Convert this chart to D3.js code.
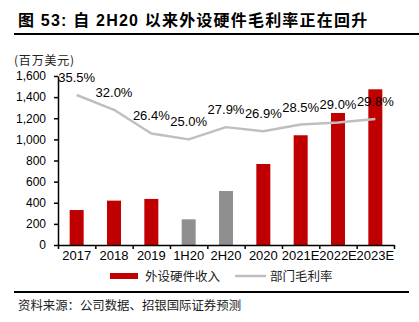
<!DOCTYPE html>
<html>
<head>
<meta charset="utf-8">
<script src="https://cdn.jsdelivr.net/npm/d3@7"></script>
<style>
  body { margin: 0; background: #fff; }
  svg { display: block; }
  text { font-family: "Liberation Sans", Arial, "Noto Sans CJK SC", sans-serif; }
  .cjk { font-family: "Noto Sans CJK SC", sans-serif; }
</style>
</head>
<body>
<div id="chart"></div>
<script>
// chart values
const categories = ['2017', '2018', '2019', '1H20', '2H20', '2020', '2021E', '2022E', '2023E'];
const revenue = [331, 420, 436, 243, 511, 767, 1039, 1250, 1474];
const margin = [35.5, 32.0, 26.4, 25.0, 27.9, 26.9, 28.5, 29.0, 29.8];
const halfYear = ['1H20', '2H20'];
const yTicks = [0, 200, 400, 600, 800, 1000, 1200, 1400, 1600];

const W = 419, H = 322;
const plot = { left: 58, right: 394, top: 76, bottom: 245 };

const svg = d3.select('#chart').append('svg')
  .attr('width', W)
  .attr('height', H);

// title + rules
svg.append('text')
  .attr('x', 18).attr('y', 26)
  .attr('font-size', 16).attr('font-weight', 'bold')
  .attr('letter-spacing', 1.2)
  .attr('fill', '#000')
  .text('图 53: 自 2H20 以来外设硬件毛利率正在回升');

svg.append('line')
  .attr('x1', 14).attr('x2', W).attr('y1', 34).attr('y2', 34)
  .attr('stroke', '#000').attr('stroke-width', 2);

svg.append('text')
  .attr('x', 14).attr('y', 65)
  .attr('font-size', 12).attr('class', 'cjk')
  .attr('letter-spacing', 0.8)
  .attr('fill', '#222')
  .text('(百万美元)');

// scales
const x = d3.scaleBand().domain(categories).range([plot.left, plot.right]).padding(0);
const xEdge = d3.scaleLinear().domain([0, categories.length]).range([plot.left, plot.right]);
const y = d3.scaleLinear().domain([0, 1600]).range([plot.bottom, plot.top]);
const y2 = d3.scaleLinear().domain([0, 40]).range([plot.bottom, plot.top]);
const barW = 14;

// bars
svg.append('g').selectAll('rect')
  .data(categories)
  .enter()
  .append('rect')
  .attr('x', (d) => x(d) + x.bandwidth() / 2 - barW / 2)
  .attr('y', (d, i) => y(revenue[i]))
  .attr('width', barW)
  .attr('height', (d, i) => y(0) - y(revenue[i]))
  .attr('fill', (d) => halfYear.includes(d) ? '#8f8f8f' : '#c00000');

// margin line
const line = d3.line()
  .x((d, i) => x(categories[i]) + x.bandwidth() / 2)
  .y((d) => y2(d));

svg.append('path')
  .datum(margin)
  .attr('fill', 'none')
  .attr('stroke', '#bfbfbf')
  .attr('stroke-width', 2.5)
  .attr('stroke-linejoin', 'round')
  .attr('d', line);

svg.append('g').selectAll('text')
  .data(margin)
  .enter()
  .append('text')
  .attr('x', (d, i) => x(categories[i]) + x.bandwidth() / 2)
  .attr('y', (d) => y2(d) - 13)
  .attr('text-anchor', 'middle')
  .attr('font-size', 13)
  .attr('fill', '#000')
  .text((d) => d.toFixed(1) + '%');

// y axis
const yAxis = svg.append('g')
  .attr('transform', `translate(${plot.left},0)`)
  .call(d3.axisLeft(y).tickValues(yTicks).tickSize(4).tickSizeOuter(0).tickPadding(8).tickFormat(d3.format(',')));
yAxis.select('.domain').attr('stroke', '#000').attr('stroke-width', 1.5);
yAxis.selectAll('.tick line').attr('stroke', '#000').attr('stroke-width', 1.5);
yAxis.selectAll('.tick text').attr('font-size', 12).attr('fill', '#000')
  .attr('font-family', '"Liberation Sans", Arial, sans-serif');

// x axis: boundary ticks + category labels
const xTicks = svg.append('g')
  .attr('transform', `translate(0,${plot.bottom})`)
  .call(d3.axisBottom(xEdge).ticks(categories.length).tickSize(4).tickSizeOuter(0).tickFormat(''));
xTicks.select('.domain').attr('stroke', '#000').attr('stroke-width', 1.5);
xTicks.selectAll('.tick line').attr('stroke', '#000').attr('stroke-width', 1.5);

const xLabels = svg.append('g')
  .attr('transform', `translate(0,${plot.bottom})`)
  .call(d3.axisBottom(x).tickSize(0).tickPadding(6));
xLabels.select('.domain').remove();
xLabels.selectAll('.tick text').attr('font-size', 13).attr('fill', '#000')
  .attr('font-family', '"Liberation Sans", Arial, sans-serif');

// legend
const legend = svg.append('g');
legend.append('rect')
  .attr('x', 110).attr('y', 273).attr('width', 28).attr('height', 6)
  .attr('fill', '#c00000');
legend.append('text')
  .attr('x', 145).attr('y', 280.5)
  .attr('font-size', 12.5).attr('class', 'cjk').attr('fill', '#222')
  .text('外设硬件收入');
legend.append('line')
  .attr('x1', 235).attr('x2', 266).attr('y1', 276).attr('y2', 276)
  .attr('stroke', '#bfbfbf').attr('stroke-width', 2.5);
legend.append('text')
  .attr('x', 270).attr('y', 280.5)
  .attr('font-size', 12.5).attr('class', 'cjk').attr('fill', '#222')
  .text('部门毛利率');

// footer
svg.append('line')
  .attr('x1', 14).attr('x2', 409).attr('y1', 292).attr('y2', 292)
  .attr('stroke', '#000').attr('stroke-width', 2);

svg.append('text')
  .attr('x', 18).attr('y', 309.5)
  .attr('font-size', 12.4).attr('class', 'cjk').attr('fill', '#222')
  .text('资料来源：公司数据、招银国际证券预测');
</script>
</body>
</html>
